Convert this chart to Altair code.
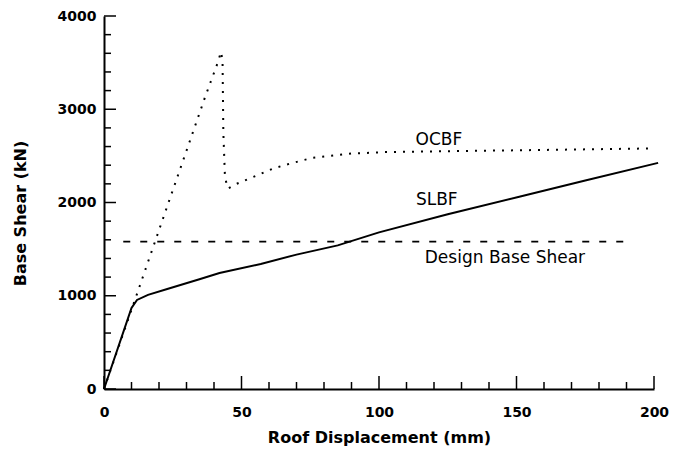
import altair as alt
import pandas as pd

# ---- data ----
ocbf_x = [0, 12, 24.6, 36.7, 41.6, 42.5, 43.1, 43.4, 44.0, 45.1, 48.2, 55, 61.6, 68, 76, 81, 90, 102.8, 125, 151, 175, 200]
ocbf_y = [0, 1020, 2097, 3126, 3519, 3615, 3530, 2749, 2265, 2150, 2200, 2283, 2366, 2420, 2480, 2495, 2525, 2541, 2550, 2560, 2570, 2580]

slbf_x = [0, 10, 12, 16, 23, 35, 42, 57, 70, 85, 100, 125, 151, 175, 201.5]
slbf_y = [0, 870, 955, 1010, 1072, 1180, 1244, 1341, 1441, 1540, 1680, 1874, 2061, 2235, 2425]

design_x = [7, 190]
design_y = [1580, 1580]

label_text = ["OCBF", "SLBF", "Design Base Shear"]
label_x = [121.8, 121.0, 145.8]
label_y = [2667, 2032, 1409]

x_major = [0, 50, 100, 150, 200]
x_minor = [v for v in range(0, 201, 10) if v % 50 != 0]
y_major = [0, 1000, 2000, 3000, 4000]
y_minor = [v for v in range(0, 4001, 200) if v % 1000 != 0]

W, H = 550, 373
FONT = "DejaVu Sans"

xs = alt.Scale(domain=[0, 200], nice=False)
ys = alt.Scale(domain=[0, 4000], nice=False)

ocbf = pd.DataFrame({"x": ocbf_x, "y": ocbf_y, "o": range(len(ocbf_x))})
slbf = pd.DataFrame({"x": slbf_x, "y": slbf_y, "o": range(len(slbf_x))})
design = pd.DataFrame({"x": design_x, "y": design_y})
labels = pd.DataFrame({"t": label_text, "x": label_x, "y": label_y})

base_x = alt.X("x:Q", scale=xs,
               axis=alt.Axis(values=x_major, format="d", ticks=False, grid=False, domainColor="black",
                             domainWidth=2, labelFont=FONT, labelFontSize=14, labelFontWeight="bold",
                             labelColor="black", labelPadding=16, labelFlush=False,
                             title="Roof Displacement (mm)", titleFont=FONT, titleFontSize=16,
                             titleFontWeight="bold", titleColor="black",
                             titleX=275, titleY=48, titleAlign="center", titleBaseline="middle"))
base_y = alt.Y("y:Q", scale=ys,
               axis=alt.Axis(values=y_major, format="d", ticks=False, grid=False, domainColor="black",
                             domainWidth=2, labelFont=FONT, labelFontSize=14, labelFontWeight="bold",
                             labelColor="black", labelPadding=8, labelFlush=False,
                             title="Base Shear (kN)", titleFont=FONT, titleFontSize=16,
                             titleFontWeight="bold", titleColor="black", titleAngle=-90,
                             titleX=-84, titleY=197, titleAlign="center", titleBaseline="middle"))

slbf_line = alt.Chart(slbf).mark_line(color="black", strokeWidth=2, clip=False).encode(
    x=base_x, y=base_y, order="o:Q")

ocbf_line = alt.Chart(ocbf).mark_line(color="black", strokeWidth=2, strokeDash=[2, 7],
                                      clip=False).encode(
    x=alt.X("x:Q", scale=xs), y=alt.Y("y:Q", scale=ys), order="o:Q")

design_line = alt.Chart(design).mark_line(color="black", strokeWidth=1.6,
                                          strokeDash=[7, 10]).encode(
    x=alt.X("x:Q", scale=xs), y=alt.Y("y:Q", scale=ys))

text = alt.Chart(labels).mark_text(font=FONT, fontSize=17, color="black",
                                   align="center", baseline="middle").encode(
    x=alt.X("x:Q", scale=xs), y=alt.Y("y:Q", scale=ys), text="t:N")

def xticks(vals, length):
    return alt.Chart(pd.DataFrame({"x": vals})).mark_rule(color="black", strokeWidth=1.5).encode(
        x=alt.X("x:Q", scale=xs), y=alt.value(H), y2=alt.value(H - length))

def yticks(vals, length):
    return alt.Chart(pd.DataFrame({"y": vals})).mark_rule(color="black", strokeWidth=1.5).encode(
        y=alt.Y("y:Q", scale=ys), x=alt.value(0), x2=alt.value(length))

chart = alt.layer(
    slbf_line, ocbf_line, design_line, text,
    xticks(x_major, 13), xticks(x_minor, 7),
    yticks(y_major, 12), yticks(y_minor, 7),
).properties(
    width=W, height=H,
    padding={"left": 104, "top": 16, "right": 22, "bottom": 69},
    autosize=alt.AutoSizeParams(type="none"),
    background="white",
).configure_view(stroke=None)

chart.save("out.html", embed_options={"renderer": "svg", "actions": False})
